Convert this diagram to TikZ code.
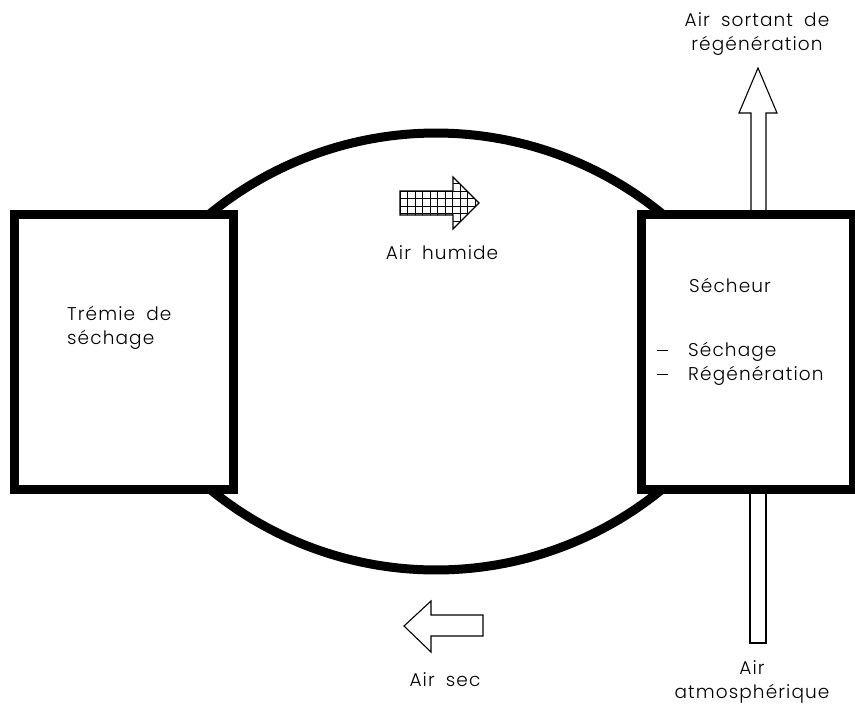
\documentclass[tikz,border=0pt]{standalone}
\usepackage{fontspec}
\setmainfont{Poppins}[UprightFont={* Light},LetterSpace=6,WordSpace=1.8]
\newcommand{\cadDash}{\rule[0.3em]{11pt}{0.9pt}\hspace{20pt}}
\begin{document}
\begin{tikzpicture}[x=1pt,y=-1pt,
  thickbox/.style={draw=black,line width=9pt,fill=white,inner sep=0pt,line join=miter},
  thickarc/.style={line width=9pt},
  thinline/.style={line width=1.1pt,line join=miter},
  lbl/.style={font=\fontsize{18.5}{24}\selectfont,inner sep=0pt}]
\useasboundingbox (0,0) rectangle (855,710);
% arcs
\draw[thickarc] plot[domain=133:47,samples=90] ({436+357*cos(\x)},{490-357*sin(\x)});
\draw[thickarc] plot[domain=133:47,samples=90] ({436+357*cos(\x)},{213+357*sin(\x)});
% boxes
\node[thickbox,minimum width=219pt,minimum height=274.5pt] (tremie) at (124,351.75) {};
\node[thickbox,minimum width=212pt,minimum height=274.5pt] (secheur) at (747,351.75) {};
% top arrow (air sortant)
\draw[thinline] (secheur.north -| 751,0) -- (751,113) -- (739,113) -- (758,68) -- (777,113) -- (766,113) -- (secheur.north -| 766,0);
% bottom shaft (air atmospherique)
\draw[thinline] (secheur.south -| 750,0) -- (750,643) -- (766,643) -- (secheur.south -| 766,0);
% hatched arrow
\begin{scope}
\path[clip] (400,191) -- (453,191) -- (453,177) -- (479,203) -- (453,229) -- (453,215) -- (400,215) -- cycle;
\foreach \i in {0,...,11} \draw[line width=0.8pt] ({400+7.5*\i},170) -- ({400+7.5*\i},235);
\foreach \j in {0,...,8} \draw[line width=0.8pt] (395,{176+7.5*\j}) -- (485,{176+7.5*\j});
\end{scope}
\draw[thinline] (400,191) -- (453,191) -- (453,177) -- (479,203) -- (453,229) -- (453,215) -- (400,215) -- cycle;
% air sec arrow
\draw[thinline] (483,615) -- (431,615) -- (431,601) -- (404,626) -- (431,652) -- (431,636) -- (483,636) -- cycle;
% labels
\node[lbl,align=center] (lsortant) at (757,34) {Air sortant de\\régénération};
\node[lbl] (lhumide) at (442,253) {Air humide};
\node[lbl,align=left,anchor=west] (ltremie) at (67,328) {Trémie de\\séchage};
\node[lbl,anchor=west] (lsecheur) at (689,285) {Sécheur};
\node[lbl,align=left,anchor=west] (lmodes) at (657,364) {\cadDash Séchage\\\cadDash Régénération};
\node[lbl] (lsec) at (445,680) {Air sec};
\node[lbl,align=center] (latm) at (752,682) {Air\\atmosphérique};
\end{tikzpicture}
\end{document}
